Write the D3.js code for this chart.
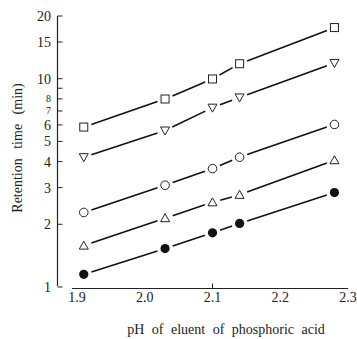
<!DOCTYPE html>
<html>
<head>
<meta charset="utf-8">
<script src="https://cdn.jsdelivr.net/npm/d3@7.9.0/dist/d3.min.js"></script>
<style>
  body { margin: 0; background: #fff; }
  svg text { font-family: "Liberation Serif", "DejaVu Serif", serif; fill: #222; }
</style>
</head>
<body>
<svg id="chart" width="357" height="339"></svg>
<script>
// pH values and retention times (min)
const pH = [1.91, 2.03, 2.10, 2.14, 2.28];
const squares = [5.86, 7.99, 9.97, 11.8, 17.6];
const trianglesDown = [4.2, 5.64, 7.26, 8.13, 11.9];
const circlesOpen = [2.28, 3.08, 3.70, 4.20, 6.03];
const trianglesUp = [1.58, 2.14, 2.55, 2.77, 4.06];
const circlesFilled = [1.15, 1.53, 1.82, 2.02, 2.84];

const xTicks = [1.9, 2.0, 2.1, 2.2, 2.3];
const yTicks = [1, 2, 3, 4, 5, 6, 7, 8, 9, 10, 15, 20];
const yLabels = [1, 2, 3, 4, 5, 6, 7, 8, 10, 15, 20];

const svg = d3.select('#chart');
const x = d3.scaleLinear().domain([1.9, 2.3]).range([77, 348]);
const y = d3.scaleLog().domain([1, 20]).range([287, 16]);

// --- axes ---
const axisX = 57.5;
svg.append('line')
  .attr('x1', axisX).attr('x2', axisX)
  .attr('y1', y(20)).attr('y2', y(1) - 1)
  .attr('stroke', '#222').attr('stroke-width', 1.2);

svg.selectAll('.ytick')
  .data(yTicks)
  .enter()
  .append('line')
  .attr('x1', axisX).attr('x2', axisX + 5)
  .attr('y1', d => y(d)).attr('y2', d => y(d))
  .attr('stroke', '#222').attr('stroke-width', 1);

// 7 and 8 sit close together, so they get a smaller size
svg.selectAll('.ylab')
  .data(yLabels)
  .enter()
  .append('text')
  .attr('x', 51)
  .attr('y', d => y(d) + (d === 7 || d === 8 ? 3.5 : 5))
  .attr('text-anchor', 'end')
  .attr('font-size', d => d === 7 || d === 8 ? 10 : 14)
  .text(d => d);

const baseY = 288.5;
svg.append('line')
  .attr('x1', 72).attr('x2', x(2.3))
  .attr('y1', baseY).attr('y2', baseY)
  .attr('stroke', '#222').attr('stroke-width', 1.2);

svg.append('line')
  .attr('x1', x(2.1)).attr('x2', x(2.1))
  .attr('y1', baseY).attr('y2', baseY - 5)
  .attr('stroke', '#222').attr('stroke-width', 1);

svg.selectAll('.xlab')
  .data(xTicks)
  .enter()
  .append('text')
  .attr('x', d => x(d))
  .attr('y', 302)
  .attr('text-anchor', 'middle')
  .attr('font-size', 14)
  .text(d => d.toFixed(1));

svg.append('text')
  .attr('x', 226).attr('y', 334)
  .attr('text-anchor', 'middle')
  .attr('font-size', 14)
  .attr('word-spacing', 4)
  .text('pH of eluent of phosphoric acid');

svg.append('text')
  .attr('transform', 'translate(22,148) rotate(-90)')
  .attr('text-anchor', 'middle')
  .attr('font-size', 14)
  .attr('word-spacing', 6)
  .text('Retention time (min)');

// --- series: segments with gaps at the markers ---
const series = [
  { values: squares, shape: 'square' },
  { values: trianglesDown, shape: 'down' },
  { values: circlesOpen, shape: 'circle' },
  { values: trianglesUp, shape: 'up' },
  { values: circlesFilled, shape: 'filled' },
];

const gap = 8;
series.forEach(s => {
  const pts = pH.map((p, i) => [x(p), y(s.values[i])]);
  const segs = d3.pairs(pts);
  svg.selectAll(null)
    .data(segs)
    .enter()
    .append('line')
    .each(function ([a, b]) {
      const dx = b[0] - a[0], dy = b[1] - a[1];
      const len = Math.hypot(dx, dy);
      const ux = dx / len, uy = dy / len;
      d3.select(this)
        .attr('x1', a[0] + ux * gap).attr('y1', a[1] + uy * gap)
        .attr('x2', b[0] - ux * gap).attr('y2', b[1] - uy * gap);
    })
    .attr('stroke', '#111').attr('stroke-width', 1.6);

  const g = svg.append('g');
  pts.forEach(([px, py]) => {
    if (s.shape === 'square') {
      g.append('rect').attr('x', px - 4).attr('y', py - 4)
        .attr('width', 8).attr('height', 8)
        .attr('fill', '#fff').attr('stroke', '#222').attr('stroke-width', 1);
    } else if (s.shape === 'circle') {
      g.append('circle').attr('cx', px).attr('cy', py).attr('r', 4.3)
        .attr('fill', '#fff').attr('stroke', '#222').attr('stroke-width', 1);
    } else if (s.shape === 'filled') {
      g.append('circle').attr('cx', px).attr('cy', py).attr('r', 4.6)
        .attr('fill', '#111');
    } else if (s.shape === 'up') {
      g.append('path')
        .attr('d', `M${px - 4.5},${py + 3.5}L${px + 4.5},${py + 3.5}L${px},${py - 4.5}Z`)
        .attr('fill', '#fff').attr('stroke', '#222').attr('stroke-width', 1);
    } else if (s.shape === 'down') {
      g.append('path')
        .attr('d', `M${px - 4.5},${py - 3.5}L${px + 4.5},${py - 3.5}L${px},${py + 4.5}Z`)
        .attr('fill', '#fff').attr('stroke', '#222').attr('stroke-width', 1);
    }
  });
});
</script>
</body>
</html>
